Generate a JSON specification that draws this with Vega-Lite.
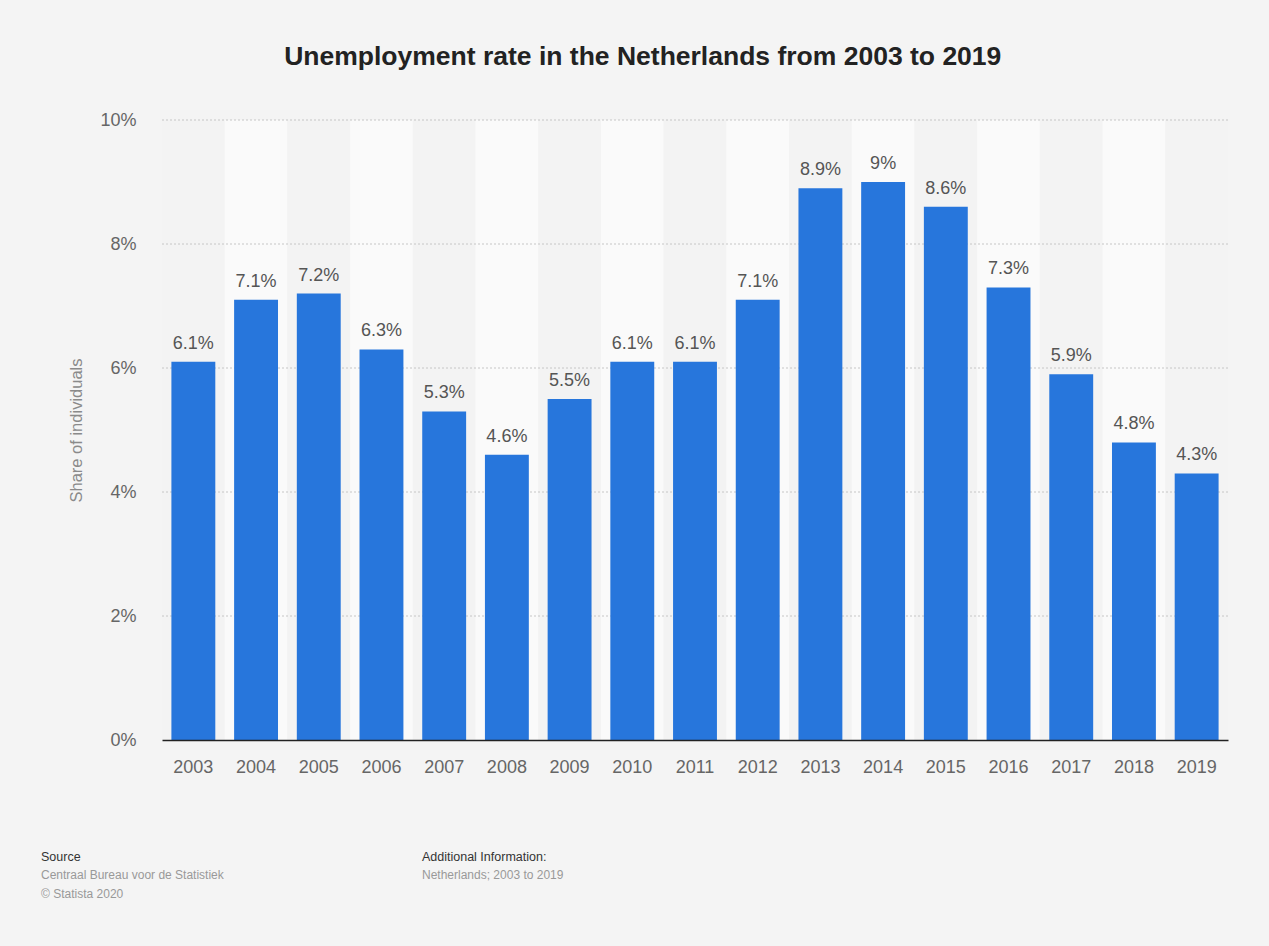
{
  "$schema": "https://vega.github.io/schema/vega-lite/v6.json",
  "background": "#f4f4f4",
  "padding": {"left": 41, "top": 43, "right": 45, "bottom": 60},
  "title": {
    "text": "Unemployment rate in the Netherlands from 2003 to 2019",
    "font": "Liberation Sans",
    "fontSize": 26.5,
    "fontWeight": "bold",
    "color": "#222222",
    "anchor": "middle",
    "dx": 8,
    "offset": 41
  },
  "spacing": 74,
  "vconcat": [
    {
      "width": 1066,
      "height": 620,
      "data": {
        "values": [
          {"year": 2003, "value": 6.1},
          {"year": 2004, "value": 7.1},
          {"year": 2005, "value": 7.2},
          {"year": 2006, "value": 6.3},
          {"year": 2007, "value": 5.3},
          {"year": 2008, "value": 4.6},
          {"year": 2009, "value": 5.5},
          {"year": 2010, "value": 6.1},
          {"year": 2011, "value": 6.1},
          {"year": 2012, "value": 7.1},
          {"year": 2013, "value": 8.9},
          {"year": 2014, "value": 9.0},
          {"year": 2015, "value": 8.6},
          {"year": 2016, "value": 7.3},
          {"year": 2017, "value": 5.9},
          {"year": 2018, "value": 4.8},
          {"year": 2019, "value": 4.3}
        ]
      },
      "layer": [
        {
          "mark": {"type": "bar"},
          "encoding": {
            "x": {
              "field": "year",
              "type": "ordinal",
              "scale": {"paddingInner": 0, "paddingOuter": 0},
              "axis": {
                "title": null,
                "labelAngle": 0,
                "labelFont": "Liberation Sans",
                "labelFontSize": 18,
                "labelColor": "#666666",
                "labelPadding": 18,
                "ticks": false,
                "domainColor": "#222222",
                "domainWidth": 1.5,
                "zindex": 1
              }
            },
            "y": {
              "datum": 10,
              "type": "quantitative",
              "scale": {"domain": [0, 10], "nice": false},
              "axis": {
                "values": [0, 2, 4, 6, 8, 10],
                "labelExpr": "datum.value + '%'",
                "grid": false,
                "domain": false,
                "ticks": false,
                "labelFont": "Liberation Sans",
                "labelFontSize": 18,
                "labelColor": "#666666",
                "labelPadding": 26,
                "title": "Share of individuals",
                "titleFont": "Liberation Sans",
                "titleFontSize": 16.5,
                "titleFontWeight": "normal",
                "titleColor": "#8a8a8a",
                "titlePadding": 15
              }
            },
            "y2": {"datum": 0},
            "color": {
              "condition": {"test": "datum.year % 2 == 0", "value": "#fafafa"},
              "value": "#f3f3f3"
            }
          }
        },
        {
          "data": {"values": [{"g": 2}, {"g": 4}, {"g": 6}, {"g": 8}, {"g": 10}]},
          "mark": {"type": "rule", "color": "#c6c6c6", "strokeDash": [2, 2], "strokeWidth": 1},
          "encoding": {"y": {"field": "g", "type": "quantitative"}}
        },
        {
          "mark": {"type": "bar", "width": {"band": 0.7}, "color": "#2776dc"},
          "encoding": {
            "x": {"field": "year", "type": "ordinal"},
            "y": {"field": "value", "type": "quantitative"}
          }
        },
        {
          "mark": {
            "type": "text",
            "baseline": "bottom",
            "dy": -9,
            "font": "Liberation Sans",
            "fontSize": 18,
            "color": "#555555",
            "text": {"expr": "format(datum.value, '.1~f') + '%'"}
          },
          "encoding": {
            "x": {"field": "year", "type": "ordinal"},
            "y": {"field": "value", "type": "quantitative"}
          }
        }
      ]
    },
    {
      "spacing": 0,
      "hconcat": [
        {
          "width": 260,
          "height": 1,
          "data": {"values": []},
          "mark": "rect",
          "title": {
            "text": "Source",
            "subtitle": ["Centraal Bureau voor de Statistiek", "© Statista 2020"],
            "anchor": "start",
            "dx": -121,
            "font": "Liberation Sans",
            "fontSize": 12.5,
            "fontWeight": "normal",
            "color": "#333333",
            "subtitleFont": "Liberation Sans",
            "subtitleFontSize": 12,
            "subtitleColor": "#999999",
            "subtitleLineHeight": 19,
            "subtitlePadding": 7
          }
        },
        {
          "width": 400,
          "height": 1,
          "data": {"values": []},
          "mark": "rect",
          "title": {
            "text": "Additional Information:",
            "subtitle": ["Netherlands; 2003 to 2019", " "],
            "anchor": "start",
            "font": "Liberation Sans",
            "fontSize": 12.5,
            "fontWeight": "normal",
            "color": "#333333",
            "subtitleFont": "Liberation Sans",
            "subtitleFontSize": 12,
            "subtitleColor": "#999999",
            "subtitleLineHeight": 19,
            "subtitlePadding": 7
          }
        }
      ]
    }
  ],
  "config": {
    "view": {"stroke": null},
    "axis": {"labelFont": "Liberation Sans"}
  }
}
